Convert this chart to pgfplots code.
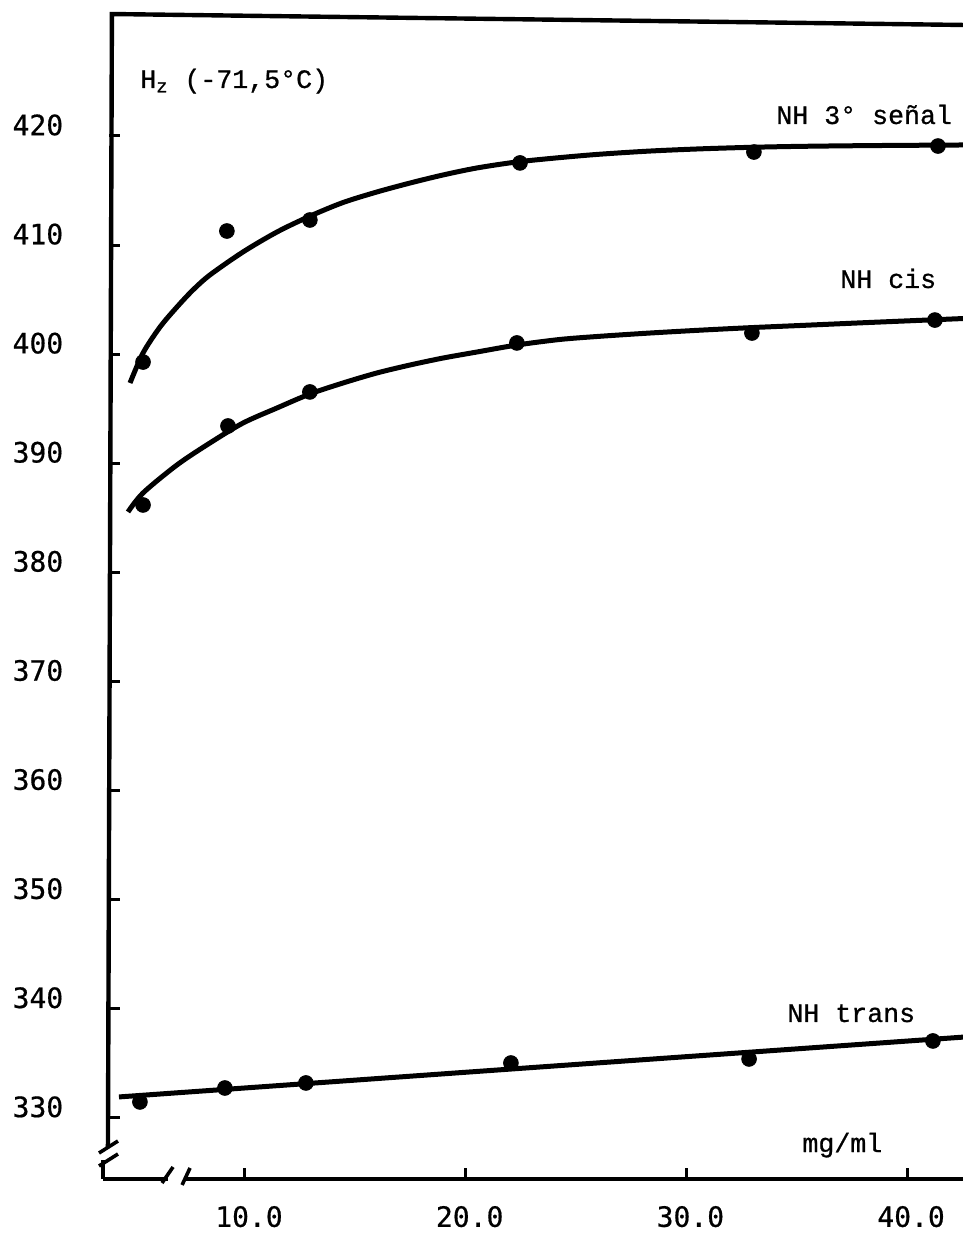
\documentclass[border=0pt]{standalone}
\usepackage{fontspec}
\usepackage{pgfplots}
\usepackage{pgfplotstable}
\pgfplotsset{compat=1.18}
\newfontfamily\tickfont[FakeBold=0.6]{DejaVu Sans Mono}
\newfontfamily\tw[FakeBold=0.8]{Liberation Mono}
\newcommand\lbl{\fontsize{13.3}{16}\selectfont}
\newcommand\tlbl{\fontsize{14}{16}\selectfont}

% measured points
\pgfplotstableread{
x y
5.38 399.28
9.18 411.29
12.94 412.30
22.46 417.53
33.06 418.53
41.40 419.08
}\senal
\pgfplotstableread{
x y
5.38 386.18
9.23 393.42
12.94 396.54
22.32 401.03
32.97 401.94
41.26 403.13
}\cis
\pgfplotstableread{
x y
5.24 331.46
9.09 332.74
12.76 333.20
22.05 335.03
32.84 335.40
41.17 337.05
}\trans

\begin{document}
\begin{tikzpicture}
\begin{axis}[
  x=11.035pt, y=5.455pt,
  xmin=3.85, xmax=42.49, ymin=324.40, ymax=431.18,
  axis x line=bottom, axis y line=left,
  axis line style={draw=none},
  clip=false,
  tick align=inside,
  major tick length=5.5pt,
  tick style={black, line width=1.5pt},
  xtick={10,20,30,40}, xticklabels={10.0,20.0,30.0,40.0},
  ytick={330,340,350,360,370,380,390,400,410,420},
  yticklabels={330,340,350,360,370,380,390,400,410,420},
  tick label style={font=\tickfont\tlbl},
  yticklabel style={xshift=-19.5pt, yshift=5.5pt},
  xticklabel style={yshift=-10pt, xshift=2pt},
]
% hand-drawn spines with breaks
\draw[line width=2.2pt] (axis cs:3.57,324.40) -- (axis cs:6.51,324.40);
\draw[line width=2.2pt] (axis cs:7.28,324.40) -- (axis cs:42.8,324.40);
\draw[line width=2.2pt] (axis cs:3.57,324.40) -- (axis cs:3.57,326.14);
\draw[line width=2.2pt] (axis cs:3.79,327.33) -- (axis cs:3.97,431.18) -- (axis cs:42.8,430.17);
\draw[line width=1.8pt] (axis cs:3.385,326.78) -- (axis cs:4.245,327.88);
\draw[line width=1.8pt] (axis cs:3.385,325.59) -- (axis cs:4.245,326.69);
\draw[line width=1.8pt] (axis cs:6.24,324.03) -- (axis cs:6.74,325.50);
\draw[line width=1.8pt] (axis cs:7.15,323.85) -- (axis cs:7.51,325.41);

% hand-fitted curves
\addplot[smooth, line width=2.5pt, black] coordinates {
 (4.79,397.36) (5.38,400.11) (6.15,402.49) (6.92,404.33) (7.64,405.88)
 (8.41,407.26) (9.91,409.37) (11.45,411.20) (12.94,412.65) (14.44,413.90)
 (15.98,414.87) (17.48,415.69) (18.98,416.43) (20.51,417.07) (22.32,417.62)
 (24.27,418.02) (26.08,418.33) (28.35,418.62) (30.62,418.82) (32.88,418.96)
 (35.15,419.05) (38.32,419.12) (42.8,419.18)};
\addplot[smooth, line width=2.5pt, black] coordinates {
 (4.70,385.54) (5.38,387.28) (6.92,389.85) (8.41,391.86) (9.91,393.69)
 (11.45,395.07) (12.94,396.35) (14.44,397.36) (15.98,398.28) (17.48,399.01)
 (18.98,399.65) (20.51,400.20) (22.32,400.84) (24.27,401.35) (26.08,401.64)
 (28.35,401.94) (30.62,402.20) (32.88,402.43) (35.15,402.63) (38.32,402.91)
 (42.8,403.29)};
\addplot[line width=2.5pt, black] coordinates {
 (4.29,331.92) (22.0,334.47) (42.8,337.44)};

\addplot[only marks, mark=*, mark size=3.7pt, black] table {\senal};
\addplot[only marks, mark=*, mark size=3.7pt, black] table {\cis};
\addplot[only marks, mark=*, mark size=3.7pt, black] table {\trans};

\node[anchor=base west, inner sep=0pt, font=\tw\lbl] at (axis cs:5.24,424.4) {H\textsubscript{z} (-71,5°C)};
\node[anchor=base west, inner sep=0pt, font=\tw\lbl] at (axis cs:34.06,421.1) {NH 3° señal};
\node[anchor=base west, inner sep=0pt, font=\tw\lbl] at (axis cs:36.96,406.07) {NH cis};
\node[anchor=base west, inner sep=0pt, font=\tw\lbl] at (axis cs:34.56,338.79) {NH trans};
\node[anchor=base west, inner sep=0pt, font=\tw\lbl] at (axis cs:35.24,326.87) {mg/ml};

\coordinate (bl) at (axis cs:-1.101,318.99);
\coordinate (tr) at (axis cs:42.49,432.466);
\end{axis}
\pgfresetboundingbox
\path[use as bounding box] (bl) rectangle (tr);
\end{tikzpicture}
\end{document}
